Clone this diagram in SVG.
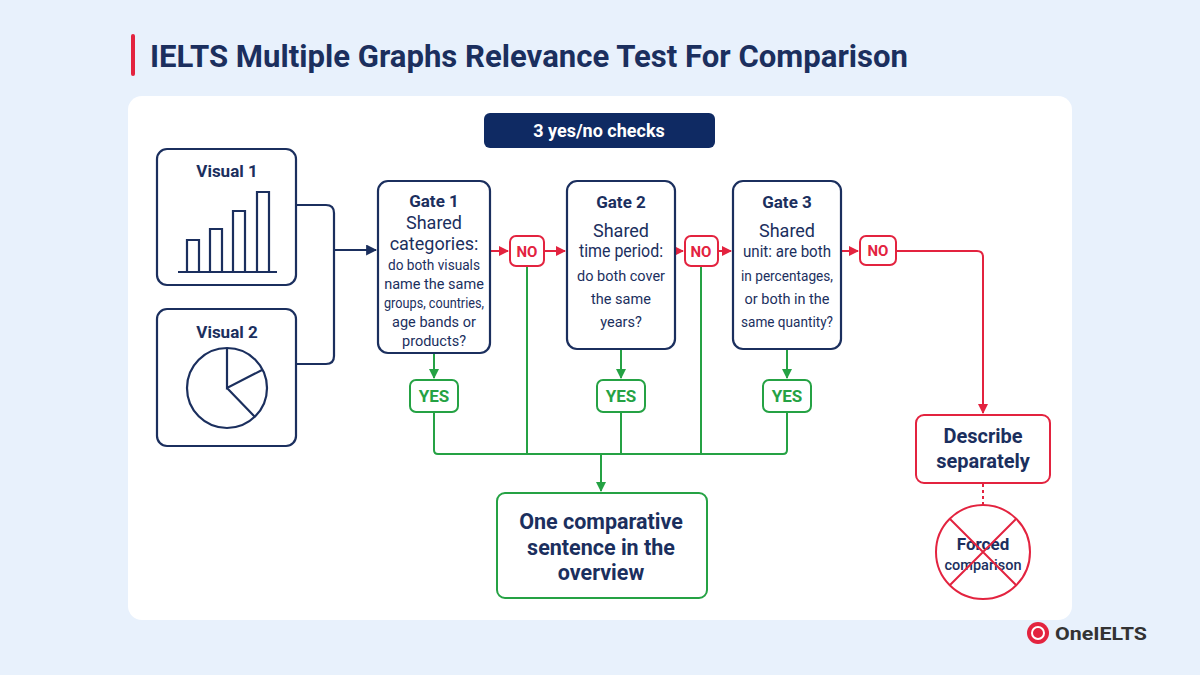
<svg xmlns="http://www.w3.org/2000/svg" width="1200" height="675" viewBox="0 0 1200 675">
<defs>
<style>
text{font-family:Roboto,"Liberation Sans",sans-serif;fill:#1b2f5e;text-anchor:middle}
.b{font-weight:bold}
.nv{fill:#fff;stroke:#1b2f5e;stroke-width:2.2}
.rd{fill:#fff;stroke:#e3233f;stroke-width:2}
.gr{fill:#fff;stroke:#25a244;stroke-width:2}
.rl{fill:none;stroke:#e3233f;stroke-width:2}
.gl{fill:none;stroke:#25a244;stroke-width:2}
.nl{fill:none;stroke:#1b2f5e;stroke-width:2.2}
.q{font-size:14.5px}
.s{font-size:18px}
.g{font-size:17px;font-weight:bold}
</style>
<marker id="ar" viewBox="0 0 10 10" refX="9" refY="5" markerWidth="5" markerHeight="5" orient="auto"><path d="M0,0L10,5L0,10z" fill="#e3233f"/></marker>
<marker id="ag" viewBox="0 0 10 10" refX="9" refY="5" markerWidth="5" markerHeight="5" orient="auto"><path d="M0,0L10,5L0,10z" fill="#25a244"/></marker>
<marker id="an" viewBox="0 0 10 10" refX="9" refY="5" markerWidth="5" markerHeight="5" orient="auto"><path d="M0,0L10,5L0,10z" fill="#1b2f5e"/></marker>
</defs>
<rect width="1200" height="675" fill="#e8f1fc"/>
<rect x="128" y="96" width="944" height="524" rx="14" fill="#fff"/>
<rect x="131" y="34" width="4" height="42" rx="2" fill="#e3233f"/>
<text x="150" y="67" class="b" style="font-size:31px;text-anchor:start" textLength="758" lengthAdjust="spacingAndGlyphs">IELTS Multiple Graphs Relevance Test For Comparison</text>
<g id="header"><rect x="484" y="113" width="231" height="35" rx="6" fill="#0f2a63"/><text x="599" y="137" class="b" style="fill:#fff;font-size:18px">3 yes/no checks</text></g>

<g id="connectors">
<path class="nl" d="M296,205H326Q334,205 334,213V356Q334,364 326,364H296"/>
<path class="nl" d="M334,250H376" marker-end="url(#an)"/>
<path class="rl" d="M490,251H508" marker-end="url(#ar)"/>
<path class="rl" d="M544,251H565" marker-end="url(#ar)"/>
<path class="rl" d="M675,251H683" marker-end="url(#ar)"/>
<path class="rl" d="M718,251H731" marker-end="url(#ar)"/>
<path class="rl" d="M841,251H858" marker-end="url(#ar)"/>
<path class="rl" d="M896,251H977Q983,251 983,257V413" marker-end="url(#ar)"/>
<path class="gl" d="M434,353V378" marker-end="url(#ag)"/>
<path class="gl" d="M621,349V378" marker-end="url(#ag)"/>
<path class="gl" d="M787,349V378" marker-end="url(#ag)"/>
<path class="gl" d="M434,412V450Q434,454 438,454H783Q787,454 787,450V412"/>
<path class="gl" d="M527,266V454M701,266V454M621,412V454"/>
<path class="gl" d="M601,454V491" marker-end="url(#ag)"/>
<path class="rl" d="M983,484V505" stroke-dasharray="3,3" stroke-width="2.5"/>
</g>

<g id="visual1"><rect class="nv" x="157" y="149" width="139" height="136" rx="10"/><text x="227" y="177" class="g">Visual 1</text>
<path class="nl" d="M178,272H277M187,272V240H199V272M210,272V229H222V272M233,272V211H245V272M257,272V192H269V272"/></g>
<g id="visual2"><rect class="nv" x="157" y="309" width="139" height="137" rx="10"/><text x="227" y="338" class="g">Visual 2</text>
<circle class="nl" cx="227" cy="388" r="40"/><path class="nl" d="M227,348V388L262,370M227,388L255,417"/></g>

<g id="gate1"><rect class="nv" x="378" y="181" width="112" height="172" rx="10"/>
<text x="434" y="207" class="g">Gate 1</text><text x="434" y="229" class="s">Shared</text><text x="434" y="250" class="s">categories:</text>
<text x="434" y="270" class="q" textLength="92" lengthAdjust="spacingAndGlyphs">do both visuals</text><text x="434" y="289" class="q">name the same</text><text x="434" y="308" class="q" textLength="100" lengthAdjust="spacingAndGlyphs">groups, countries,</text><text x="434" y="327" class="q">age bands or</text><text x="434" y="346" class="q">products?</text></g>
<g id="gate2"><rect class="nv" x="567" y="181" width="108" height="168" rx="10"/>
<text x="621" y="208" class="g">Gate 2</text><text x="621" y="237" class="s">Shared</text><text x="621" y="257" class="s" textLength="84" lengthAdjust="spacingAndGlyphs">time period:</text>
<text x="621" y="281" class="q">do both cover</text><text x="621" y="304" class="q">the same</text><text x="621" y="327" class="q">years?</text></g>
<g id="gate3"><rect class="nv" x="733" y="181" width="108" height="168" rx="10"/>
<text x="787" y="208" class="g">Gate 3</text><text x="787" y="237" class="s">Shared</text><text x="787" y="257" class="q" style="font-size:16px" textLength="88" lengthAdjust="spacingAndGlyphs">unit: are both</text>
<text x="787" y="281" class="q" textLength="92" lengthAdjust="spacingAndGlyphs">in percentages,</text><text x="787" y="304" class="q">or both in the</text><text x="787" y="327" class="q" textLength="92" lengthAdjust="spacingAndGlyphs">same quantity?</text></g>

<g id="no1"><rect class="rd" x="510" y="236" width="34" height="30" rx="6"/><text x="527" y="257" class="b" style="fill:#e3233f;font-size:15px">NO</text></g>
<g id="no2"><rect class="rd" x="685" y="236" width="33" height="30" rx="6"/><text x="701" y="257" class="b" style="fill:#e3233f;font-size:15px">NO</text></g>
<g id="no3"><rect class="rd" x="860" y="236" width="36" height="29" rx="6"/><text x="878" y="256" class="b" style="fill:#e3233f;font-size:15px">NO</text></g>
<g id="yes1"><rect class="gr" x="410" y="380" width="48" height="32" rx="6"/><text x="434" y="402" class="b" style="fill:#25a244;font-size:17px">YES</text></g>
<g id="yes2"><rect class="gr" x="597" y="380" width="48" height="32" rx="6"/><text x="621" y="402" class="b" style="fill:#25a244;font-size:17px">YES</text></g>
<g id="yes3"><rect class="gr" x="763" y="380" width="48" height="32" rx="6"/><text x="787" y="402" class="b" style="fill:#25a244;font-size:17px">YES</text></g>

<g id="final"><rect class="gr" x="497" y="493" width="210" height="105" rx="8"/>
<text x="601" y="529" class="b" style="font-size:21.5px">One comparative</text><text x="601" y="555" class="b" style="font-size:21.5px">sentence in the</text><text x="601" y="580" class="b" style="font-size:21.5px">overview</text></g>
<g id="describe"><rect class="rd" x="916" y="415" width="134" height="68" rx="8"/>
<text x="983" y="443" class="b" style="font-size:20px">Describe</text><text x="983" y="468" class="b" style="font-size:20px">separately</text></g>
<g id="forced"><circle class="rl" cx="983" cy="552" r="47"/>
<text x="983" y="550" class="b" style="font-size:17px">Forced</text><text x="983" y="570" style="font-size:14.5px;font-weight:500">comparison</text>
<path class="rl" d="M950,519L1016,585M1016,519L950,585"/></g>
<g id="logo"><circle cx="1038" cy="633" r="11" fill="#e3233f"/><circle cx="1038" cy="633" r="6" fill="none" stroke="#fff" stroke-width="2"/>
<text x="1055" y="640" class="b" style="fill:#333;font-size:19px;text-anchor:start" textLength="92" lengthAdjust="spacingAndGlyphs">OneIELTS</text></g>
</svg>
